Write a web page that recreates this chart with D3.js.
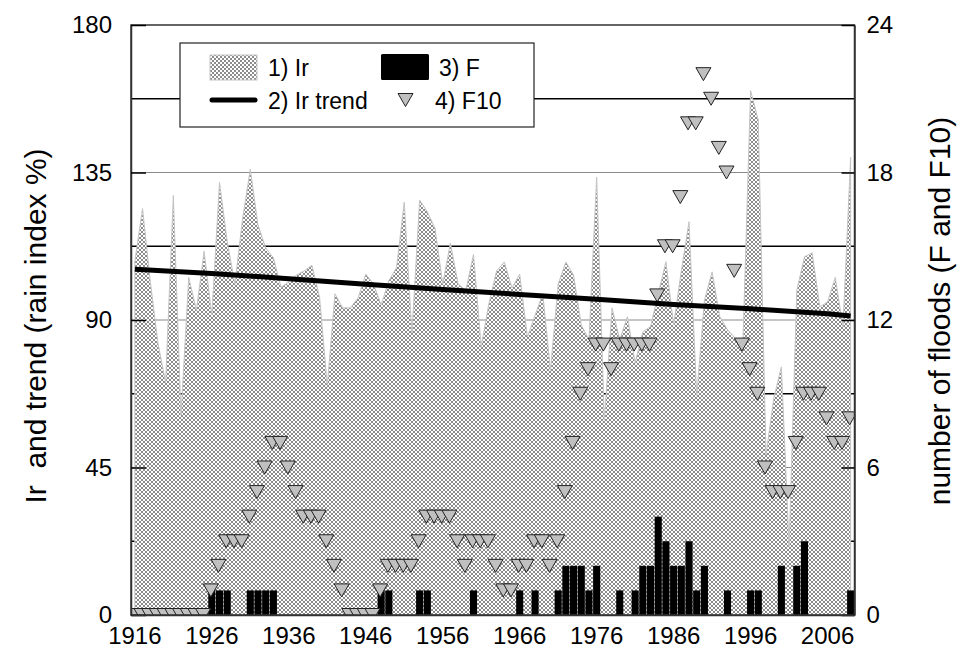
<!DOCTYPE html>
<html>
<head>
<meta charset="utf-8">
<script src="https://cdn.jsdelivr.net/npm/d3@7"></script>
<style>
  body { margin: 0; background: #fff; }
  svg text { font-family: "Liberation Sans", Arial, sans-serif; fill: #000; }
</style>
</head>
<body>
<div id="chart"></div>
<script>
// category axis: one band per year
var firstYear = 1916, lastYear = 2009;
var years = d3.range(firstYear, lastYear + 1);
var yearLabels = [1916, 1926, 1936, 1946, 1956, 1966, 1976, 1986, 1996, 2006];

// 1) Ir - rain index (%), 1916..2009
var irValues = [
  108, 124, 102, 83, 71, 128, 61, 103, 93, 111,
  91.5, 132, 114, 101, 121, 136, 119, 112, 109, 100,
  101.6, 103.7, 105, 106.7, 97, 70, 98, 93.7, 93.7, 96.7,
  104, 101, 94.6, 102, 106, 126, 86, 126.6, 123, 118,
  101, 113.5, 101, 99, 110, 82, 95, 105, 107.7, 99.8,
  104, 84.8, 91.5, 98, 74.7, 101, 107.7, 103.7, 88.5, 84,
  133.6, 59.5, 93.7, 84, 91, 77, 86.4, 88, 98, 107.8,
  88.5, 105, 120, 67, 96, 104.7, 91, 87, 84.5, 83,
  160, 151, 48.8, 66, 75.7, 21, 99, 109.3, 110.5, 94,
  95.5, 103, 88, 139.7
];

// 2) Ir trend, read at a few years
var trendYears = [1916, 1926, 1936, 1946, 1956, 1966, 1976, 1986, 1996, 2006, 2009];
var trendValues = [105.5, 104.2, 102.6, 100.9, 99.3, 97.8, 96.3, 94.7, 93.4, 91.9, 91.2];

// 3) F - number of floods per year
var floods = [
  0, 0, 0, 0, 0, 0, 0, 0, 0, 0,
  1, 1, 1, 0, 0, 1, 1, 1, 1, 0,
  0, 0, 0, 0, 0, 0, 0, 0, 0, 0,
  0, 0, 1, 1, 0, 0, 0, 1, 1, 0,
  0, 0, 0, 0, 1, 0, 0, 0, 0, 0,
  1, 0, 1, 0, 0, 1, 2, 2, 2, 1,
  2, 0, 0, 1, 0, 1, 2, 2, 4, 3,
  2, 2, 3, 1, 2, 0, 0, 1, 0, 0,
  1, 1, 0, 0, 2, 0, 2, 3, 0, 0,
  0, 0, 0, 1
];

// 4) F10 - floods in the last ten years
var floods10 = [
  0, 0, 0, 0, 0, 0, 0, 0, 0, 0,
  1, 2, 3, 3, 3, 4, 5, 6, 7, 7,
  6, 5, 4, 4, 4, 3, 2, 1, 0, 0,
  0, 0, 1, 2, 2, 2, 2, 3, 4, 4,
  4, 4, 3, 2, 3, 3, 3, 2, 1, 1,
  2, 2, 3, 3, 2, 3, 5, 7, 9, 10,
  11, 11, 10, 11, 11, 11, 11, 11, 13, 15,
  15, 17, 20, 20, 22, 21, 19, 18, 14, 11,
  10, 9, 6, 5, 5, 5, 7, 9, 9, 9,
  8, 7, 7, 8
];

var leftTicks = [0, 45, 90, 135, 180];
var rightTicks = [0, 6, 12, 18, 24];
var minorLines = [22.5, 67.5, 112.5, 157.5];

var W = 957, H = 659;
var margin = { top: 25, right: 102.5, bottom: 44, left: 131 },
  width = W - margin.left - margin.right,
  height = H - margin.top - margin.bottom;

var svg = d3.select("#chart").append("svg")
  .attr("width", W)
  .attr("height", H);

var defs = svg.append("defs");

// fine grey/white checker like the original fill
var pat = defs.append("pattern")
  .attr("id", "hatch")
  .attr("width", 4).attr("height", 4)
  .attr("patternUnits", "userSpaceOnUse");
pat.append("rect").attr("width", 4).attr("height", 4).attr("fill", "#fff");
pat.append("rect").attr("width", 2).attr("height", 2).attr("fill", "#8c8c8c");
pat.append("rect").attr("x", 2).attr("y", 2).attr("width", 2).attr("height", 2).attr("fill", "#8c8c8c");

defs.append("clipPath").attr("id", "plotClip")
  .append("rect").attr("width", width).attr("height", height);

var g = svg.append("g")
  .attr("transform", "translate(" + margin.left + "," + margin.top + ")");

// scales
var x = d3.scaleBand().domain(years).range([0, width])
  .paddingInner(0.08).paddingOuter(0.04);
var cx = function (yr) { return x(yr) + x.bandwidth() / 2; };
var yL = d3.scaleLinear().domain([0, 180]).range([height, 0]);
var yR = d3.scaleLinear().domain([0, 24]).range([height, 0]);

// gridlines behind the area
g.selectAll(".minor").data(minorLines).enter().append("line")
  .attr("x1", 0).attr("x2", width)
  .attr("y1", function (d) { return yL(d); })
  .attr("y2", function (d) { return yL(d); })
  .attr("stroke", "#000").attr("stroke-width", 1.5);

g.selectAll(".major").data(leftTicks.slice(1, 4)).enter().append("line")
  .attr("x1", 0).attr("x2", width)
  .attr("y1", function (d) { return yL(d); })
  .attr("y2", function (d) { return yL(d); })
  .attr("stroke", "#8a8a8a").attr("stroke-width", 1.2);

// 1) Ir area
var irArea = d3.area()
  .x(function (d, i) { return cx(years[i]); })
  .y0(height)
  .y1(function (d) { return yL(d); });

g.append("path")
  .datum(irValues)
  .attr("d", irArea)
  .attr("fill", "url(#hatch)")
  .attr("stroke", "#c4c4c4")
  .attr("stroke-width", 1);

var plot = g.append("g").attr("clip-path", "url(#plotClip)");

// 3) F bars
plot.selectAll(".bar").data(years).enter().append("rect")
  .filter(function (d, i) { return floods[i] > 0; })
  .attr("x", function (d) { return x(d); })
  .attr("width", x.bandwidth())
  .attr("y", function (d) { return yR(floods[d - firstYear]); })
  .attr("height", function (d) { return height - yR(floods[d - firstYear]); })
  .attr("fill", "#000");

// 2) trend line
var trendLine = d3.line()
  .x(function (d, i) { return cx(trendYears[i]); })
  .y(function (d) { return yL(d); });

g.append("path")
  .datum(trendValues)
  .attr("d", trendLine)
  .attr("fill", "none")
  .attr("stroke", "#000")
  .attr("stroke-width", 5);

// 4) F10 markers (down triangles)
function triangle(px, py) {
  return "M" + (px - 7.5) + "," + (py - 6.5) + "L" + (px + 7.5) + "," + (py - 6.5) +
    "L" + px + "," + (py + 6.5) + "Z";
}
plot.selectAll(".f10").data(years).enter().append("path")
  .attr("d", function (d, i) { return triangle(cx(d) - 1, yR(floods10[i])); })
  .attr("fill", "#c0c0c0")
  .attr("stroke", "#222")
  .attr("stroke-width", 1);

// frame
g.append("rect")
  .attr("width", width).attr("height", height)
  .attr("fill", "none")
  .attr("stroke", "#333").attr("stroke-width", 1.5);

// axes
var fontSize = 24;
var axL = g.append("g")
  .call(d3.axisLeft(yL).tickValues(leftTicks).tickSizeInner(-15).tickSizeOuter(0).tickPadding(19));
var axR = g.append("g")
  .attr("transform", "translate(" + width + ",0)")
  .call(d3.axisRight(yR).tickValues(rightTicks).tickSizeInner(-13).tickSizeOuter(0).tickPadding(12));
var axB = g.append("g")
  .attr("transform", "translate(0," + height + ")")
  .call(d3.axisBottom(x).tickValues(yearLabels).tickSize(0).tickPadding(12));

[axL, axR, axB].forEach(function (a) {
  a.select(".domain").attr("stroke", "#333").attr("stroke-width", 1.5);
  a.selectAll(".tick line").attr("stroke", "#000").attr("stroke-width", 1.5);
  a.selectAll("text")
    .style("font-family", "'Liberation Sans', Arial, sans-serif")
    .style("font-size", fontSize + "px")
    .attr("fill", "#000");
});

// axis titles
svg.append("text")
  .attr("transform", "translate(46,326) rotate(-90)")
  .attr("text-anchor", "middle")
  .style("white-space", "pre")
  .style("font-size", "30px")
  .text("Ir  and trend (rain index %)");

svg.append("text")
  .attr("transform", "translate(950," + (margin.top + height / 2 - 9) + ") rotate(-90)")
  .attr("text-anchor", "middle")
  .style("font-size", "30px")
  .text("number of floods (F and F10)");

// legend
var lg = svg.append("g");
lg.append("rect")
  .attr("x", 180).attr("y", 43).attr("width", 354).attr("height", 84)
  .attr("fill", "#fff").attr("stroke", "#222").attr("stroke-width", 1.2);

lg.append("rect")
  .attr("x", 210).attr("y", 55).attr("width", 47).attr("height", 25)
  .attr("fill", "url(#hatch)").attr("stroke", "#c4c4c4");
lg.append("line")
  .attr("x1", 212).attr("x2", 255).attr("y1", 100).attr("y2", 100)
  .attr("stroke", "#000").attr("stroke-width", 5).attr("stroke-linecap", "round");
lg.append("rect")
  .attr("x", 381).attr("y", 54).attr("width", 48).attr("height", 26)
  .attr("rx", 1.5).attr("fill", "#000");
lg.append("path")
  .attr("d", triangle(405.5, 100))
  .attr("fill", "#c0c0c0").attr("stroke", "#222");

var legendText = [
  { t: "1) Ir", x: 268, y: 76 },
  { t: "2) Ir trend", x: 268, y: 109 },
  { t: "3) F", x: 439, y: 76 },
  { t: "4) F10", x: 435, y: 109 }
];
lg.selectAll(".lt").data(legendText).enter().append("text")
  .attr("x", function (d) { return d.x; })
  .attr("y", function (d) { return d.y; })
  .style("font-size", "23px")
  .text(function (d) { return d.t; });
</script>
</body>
</html>
